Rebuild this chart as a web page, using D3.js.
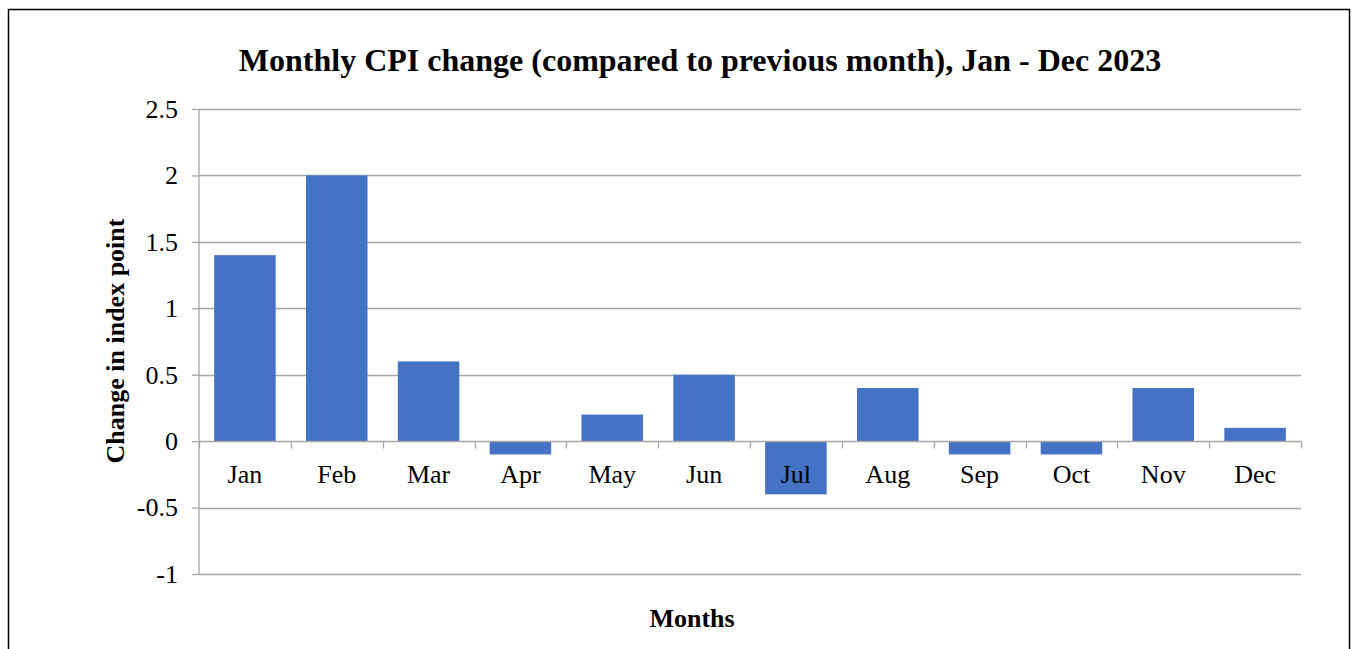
<!DOCTYPE html>
<html>
<head>
<meta charset="utf-8">
<script src="https://cdn.jsdelivr.net/npm/d3@7"></script>
<style>
  body { margin: 0; background: #fff; overflow: hidden; }
  svg { display: block; }
  svg text { font-family: "Liberation Serif", "Times New Roman", serif; fill: #000; }
</style>
</head>
<body>
<svg id="chart"></svg>
<script>
const months = ['Jan', 'Feb', 'Mar', 'Apr', 'May', 'Jun', 'Jul', 'Aug', 'Sep', 'Oct', 'Nov', 'Dec'];
const cpiChange = [1.4, 2.0, 0.6, -0.1, 0.2, 0.5, -0.4, 0.4, -0.1, -0.1, 0.4, 0.1];
const yTicks = [-1, -0.5, 0, 0.5, 1, 1.5, 2, 2.5];

const width = 1357;
const height = 649;
const margin = { top: 109, right: 56, bottom: 75, left: 199 };
const innerWidth = width - margin.left - margin.right;
const innerHeight = height - margin.top - margin.bottom;

const svg = d3.select('#chart')
  .attr('width', width)
  .attr('height', height);

// outer frame (bottom edge lies below the visible area)
svg.append('path')
  .attr('d', 'M8.5,649V9.5H1349.5V649')
  .attr('fill', 'none')
  .attr('stroke', '#000')
  .attr('stroke-width', 1.5);

const g = svg.append('g')
  .attr('transform', `translate(${margin.left}, ${margin.top})`);

const x = d3.scaleBand()
  .domain(months)
  .range([0, innerWidth])
  .paddingInner(0.33)
  .paddingOuter(0.165);

const y = d3.scaleLinear()
  .domain([-1, 2.5])
  .range([innerHeight, 0]);

// y labels + small outer ticks
const yAxis = d3.axisLeft(y)
  .tickValues(yTicks)
  .tickSize(7)
  .tickPadding(14)
  .tickFormat(d => String(d));

g.append('g')
  .attr('class', 'y-axis')
  .call(yAxis)
  .call(s => s.selectAll('.tick line').attr('stroke', '#a6a6a6').attr('stroke-width', 1.3))
  .call(s => s.select('.domain').attr('stroke', '#a6a6a6').attr('stroke-width', 1.3).attr('d', `M0,0V${innerHeight}`))
  .call(s => s.selectAll('.tick text').style('font-size', '26px'));

// gridlines
g.append('g')
  .attr('class', 'grid')
  .selectAll('line')
  .data(yTicks.filter(d => d !== 0))
  .join('line')
    .attr('x1', 0)
    .attr('x2', innerWidth)
    .attr('y1', d => Math.round(y(d)) + 0.5)
    .attr('y2', d => Math.round(y(d)) + 0.5)
    .attr('stroke', '#a6a6a6')
    .attr('stroke-width', 1.3);

// Bars
g.selectAll('.bar')
  .data(months.map((m, i) => ({ month: m, value: cpiChange[i] })))
  .join('rect')
    .attr('class', 'bar')
    .attr('fill', '#4472c4')
    .attr('x', d => x(d.month))
    .attr('y', d => y(Math.max(0, d.value)))
    .attr('width', x.bandwidth())
    .attr('height', d => Math.abs(y(d.value) - y(0)));

// Category axis on the zero line
const step = x.step();
const xAxisG = g.append('g')
  .attr('class', 'x-axis')
  .attr('transform', `translate(0, ${Math.round(y(0)) + 0.5})`);

xAxisG.append('line')
  .attr('x1', 0)
  .attr('x2', innerWidth)
  .attr('stroke', '#a6a6a6')
  .attr('stroke-width', 1.3);

xAxisG.selectAll('.cat-tick')
  .data(d3.range(months.length + 1))
  .join('line')
    .attr('class', 'cat-tick')
    .attr('x1', i => Math.round(i * step) + 0.5)
    .attr('x2', i => Math.round(i * step) + 0.5)
    .attr('y1', 0)
    .attr('y2', 7)
    .attr('stroke', '#a6a6a6')
    .attr('stroke-width', 1.3);

xAxisG.selectAll('.cat-label')
  .data(months)
  .join('text')
    .attr('class', 'cat-label')
    .attr('x', d => x(d) + x.bandwidth() / 2)
    .attr('y', 41)
    .attr('text-anchor', 'middle')
    .style('font-size', '26px')
    .text(d => d);

// Title
svg.append('text')
  .attr('x', 700)
  .attr('y', 71)
  .attr('text-anchor', 'middle')
  .style('font-size', '32px')
  .style('font-weight', 'bold')
  .text('Monthly CPI change (compared to previous month), Jan - Dec 2023');

// Axis titles
svg.append('text')
  .attr('transform', 'translate(124, 341) rotate(-90)')
  .attr('text-anchor', 'middle')
  .style('font-size', '26px')
  .style('font-weight', 'bold')
  .text('Change in index point');

svg.append('text')
  .attr('x', 692)
  .attr('y', 627)
  .attr('text-anchor', 'middle')
  .style('font-size', '26px')
  .style('font-weight', 'bold')
  .text('Months');
</script>
</body>
</html>
